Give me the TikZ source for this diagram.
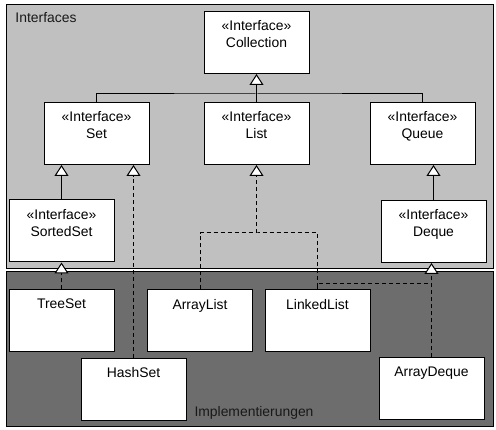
\documentclass[tikz,border=0pt]{standalone}
\usepackage{fontspec}
\setmainfont{Liberation Sans}
\usepackage{tikz}
\usetikzlibrary{positioning, arrows.meta, calc}
\definecolor{ifacegray}{RGB}{192, 192, 192}
\definecolor{implgray}{RGB}{109, 109, 109}
\definecolor{textdark}{RGB}{25, 25, 25}

\begin{document}
\begin{tikzpicture}[x=1pt, y=-1pt, line width=1pt, every node/.style={font=\fontsize{13.9}{17}\selectfont},
    classbox/.style={draw, rectangle, fill=white, minimum width=105pt, minimum height=62pt, inner sep=0pt},
    boxtext/.style={anchor=north, align=center, inner sep=0pt, yshift=-9pt},
    solidedge/.style={draw, black},
    dashededge/.style={draw, black, dash pattern=on 4pt off 3pt},
    inherit/.style={-{Triangle[length=11pt, width=14pt, fill=white]}}]
    \useasboundingbox (0,0) rectangle (496,430);

    % the two packages
    \draw [fill=ifacegray] (6,5) rectangle (493,269);
    \draw [fill=implgray] (6,272) rectangle (493,427);
    \node [anchor=west, inner sep=0pt, text=textdark] (ifacelabel) at (15,18) {Interfaces};
    \node [anchor=west, inner sep=0pt, text=textdark] (impllabel) at (194,413) {Implementierungen};

    % interfaces
    \node [classbox, label={[boxtext]north:{«Interface»\\Collection}}] (coll) at (256.5,42.5) {};
    \node [classbox, label={[boxtext]north:{«Interface»\\Set}}] (set) at (96.5,133.5) {};
    \node [classbox, label={[boxtext]north:{«Interface»\\List}}] (list) at (256.5,133.5) {};
    \node [classbox, label={[boxtext]north:{«Interface»\\Queue}}] (queue) at (422.5,133.5) {};
    \node [classbox, label={[boxtext]north:{«Interface»\\SortedSet}}] (sortedset) at (61.5,231) {};
    \node [classbox, label={[boxtext]north:{«Interface»\\Deque}}] (deque) at (433.5,231.5) {};

    % implementations
    \node [classbox, label={[boxtext]north:TreeSet}] (treeset) at (61.5,321) {};
    \node [classbox, label={[boxtext]north:ArrayList}] (arraylist) at (200,321) {};
    \node [classbox, label={[boxtext]north:LinkedList}] (linkedlist) at (317.5,321) {};
    \node [classbox, label={[boxtext]north:HashSet}] (hashset) at (133.5,389.5) {};
    \node [classbox, label={[boxtext]north:ArrayDeque}] (arraydeque) at (431.5,389) {};

    \coordinate (collbus) at (256.5,94);
    \coordinate (listbus) at (256.5,233);
    \coordinate (dequebus) at (431.5,284);

    % extends
    \draw [solidedge] (set.north) |- (collbus) -| (queue.north);
    \draw [solidedge, inherit] (list.north) -- (coll.south);
    \draw [solidedge, inherit] (sortedset.north) -- (sortedset.north |- set.south);
    \draw [solidedge, inherit] (deque.north) -- (deque.north |- queue.south);

    % implements
    \draw [dashededge, inherit] (treeset.north) -- (sortedset.south);
    \draw [dashededge, inherit] (hashset.north) -- (hashset.north |- set.south);
    \draw [dashededge] (arraylist.north) |- (listbus) -| (linkedlist.north);
    \draw [dashededge, inherit] (listbus) -- (list.south);
    \draw [dashededge] (linkedlist.north) |- (dequebus);
    \draw [dashededge, inherit] (arraydeque.north) -- (arraydeque.north |- deque.south);
\end{tikzpicture}
\end{document}
